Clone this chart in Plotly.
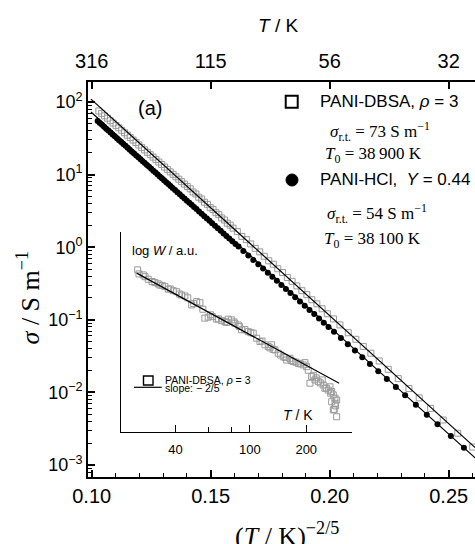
import plotly.graph_objects as go

# ---------------- main panel data: x = (T/K)^(-2/5), sigma in S/m ----------------
hcl_x = [0.1025, 0.1034, 0.1043, 0.1052, 0.1061, 0.1070, 0.1079, 0.1088, 0.1097, 0.1106,
         0.1115, 0.1124, 0.1133, 0.1142, 0.1151, 0.1160, 0.1169, 0.1178, 0.1187, 0.1196,
         0.1205, 0.1214, 0.1223, 0.1232, 0.1241, 0.1250, 0.1259, 0.1268, 0.1277, 0.1286,
         0.1295, 0.1304, 0.1313, 0.1322, 0.1331, 0.1340, 0.1350, 0.1360, 0.1370, 0.1380,
         0.1390, 0.1400, 0.1410, 0.1420, 0.1430, 0.1440, 0.1451, 0.1462, 0.1473, 0.1484,
         0.1495, 0.1506, 0.1518, 0.1530, 0.1542, 0.1554, 0.1566, 0.1578, 0.1591, 0.1604,
         0.1617, 0.1637, 0.1658, 0.1679, 0.1700, 0.1720, 0.1740, 0.1759, 0.1778, 0.1797,
         0.1816, 0.1835, 0.1855, 0.1875, 0.1895, 0.1915, 0.1935, 0.1955, 0.1975, 0.1995,
         0.2018, 0.2047, 0.2076, 0.2106, 0.2137, 0.2169, 0.2204, 0.2240, 0.2278, 0.2317,
         0.2362, 0.2408, 0.2453, 0.2509, 0.2564]
hcl_sigma = [54.7, 51.5, 48.5, 45.6, 42.9, 40.4, 38.0, 35.8, 33.7, 31.7,
             29.8, 28.1, 26.4, 24.9, 23.4, 22.0, 20.7, 19.5, 18.4, 17.3,
             16.3, 15.3, 14.4, 13.6, 12.8, 12.0, 11.3, 10.7, 10.0, 9.44,
             8.88, 8.36, 7.87, 7.41, 6.97, 6.56, 6.13, 5.73, 5.36, 5.01,
             4.68, 4.38, 4.09, 3.83, 3.58, 3.35, 3.10, 2.88, 2.68, 2.49,
             2.31, 2.14, 1.98, 1.82, 1.68, 1.55, 1.43, 1.32, 1.21, 1.11,
             1.02, 0.888, 0.771, 0.669, 0.581, 0.508, 0.444, 0.391, 0.344, 0.302,
             0.266, 0.234, 0.205, 0.179, 0.156, 0.137, 0.120, 0.104, 0.0912, 0.0797,
             0.0683, 0.0562, 0.0462, 0.0378, 0.0306, 0.0247, 0.0195, 0.0153, 0.0119, 0.00912,
             0.00674, 0.00494, 0.00365, 0.00251, 0.00173]

dbsa_x = [0.1030, 0.1042, 0.1054, 0.1066, 0.1078, 0.1090, 0.1102, 0.1114, 0.1126, 0.1138,
          0.1150, 0.1162, 0.1174, 0.1186, 0.1198, 0.1210, 0.1222, 0.1234, 0.1246, 0.1258,
          0.1270, 0.1282, 0.1294, 0.1306, 0.1318, 0.1330, 0.1342, 0.1354, 0.1366, 0.1378,
          0.1390, 0.1402, 0.1414, 0.1426, 0.1438, 0.1450, 0.1462, 0.1474, 0.1486, 0.1498,
          0.1510, 0.1522, 0.1534, 0.1546, 0.1558, 0.1570, 0.1582, 0.1594, 0.1612, 0.1631,
          0.1650, 0.1668, 0.1687, 0.1706, 0.1725, 0.1744, 0.1763, 0.1782, 0.1802, 0.1822,
          0.1842, 0.1862, 0.1883, 0.1904, 0.1925, 0.1946, 0.1968, 0.1990, 0.2016, 0.2043,
          0.2078, 0.2110, 0.2141, 0.2173, 0.2208, 0.2246, 0.2288, 0.2333, 0.2376, 0.2424,
          0.2477, 0.2538, 0.2601]
dbsa_sigma = [75.2, 69.7, 64.5, 59.8, 55.3, 51.3, 47.6, 44.1, 40.8, 37.7,
              34.9, 32.3, 29.9, 27.7, 25.6, 23.7, 21.9, 20.3, 18.8, 17.4,
              16.1, 14.9, 13.8, 12.7, 11.8, 10.9, 10.1, 9.34, 8.64, 8.00,
              7.40, 6.85, 6.37, 5.77, 5.41, 4.88, 4.60, 4.16, 3.89, 3.51,
              3.30, 2.99, 2.81, 2.53, 2.37, 2.14, 2.01, 1.83, 1.64, 1.41,
              1.27, 1.11, 0.964, 0.864, 0.750, 0.650, 0.583, 0.505, 0.448, 0.382,
              0.339, 0.293, 0.252, 0.222, 0.189, 0.166, 0.142, 0.121, 0.103, 0.0850,
              0.0664, 0.0539, 0.0430, 0.0347, 0.0271, 0.0208, 0.0155, 0.0113, 0.00841, 0.00603,
              0.00417, 0.00274, 0.00177]

# fitted straight lines (ln sigma vs T^-2/5), end points
fit_x = [0.0997, 0.2615]
dbsa_fit_sigma = [109.6, 0.00169]
hcl_fit_sigma = [72.8, 0.00122]

# ---------------- inset data: log W (a.u.) vs T / K ----------------
inset_T = [25.1, 25.5, 26.9, 27.5, 28.6, 30.0, 31.0, 32.3, 33.0, 34.0,
           35.1, 36.6, 37.5, 38.9, 40.6, 42.0, 43.1, 44.9, 46.5, 48.8,
           50.0, 51.9, 54.0, 56.0, 57.4, 59.8, 61.5, 62.9, 66.4, 68.0,
           70.6, 73.5, 75.0, 76.6, 79.8, 82.0, 83.1, 86.6, 88.0, 90.3,
           94.0, 97.9, 101.0, 104.1, 108.6, 113.1, 116.0, 120.3, 125.3, 128.0,
           130.6, 133.0, 136.0, 141.7, 146.0, 150.7, 154.0, 157.1, 163.6, 166.0,
           170.4, 176.0, 181.3, 186.0, 192.8, 196.8, 201.0, 205.0, 209.4, 213.8,
           218.0, 222.6, 226.0, 231.9, 238.0, 243.5, 246.6, 251.8, 256.0, 262.3,
           267.8, 270.0, 273.5, 273.5, 279.0, 279.0, 282.4, 284.8, 284.8, 287.0,
           290.8, 290.8]
inset_logW = [0.455, 0.439, 0.435, 0.428, 0.418, 0.409, 0.405, 0.400, 0.395, 0.393,
              0.389, 0.379, 0.380, 0.373, 0.369, 0.360, 0.356, 0.352, 0.345, 0.317,
              0.322, 0.330, 0.326, 0.300, 0.265, 0.269, 0.278, 0.271, 0.261, 0.262,
              0.255, 0.251, 0.248, 0.261, 0.258, 0.250, 0.245, 0.238, 0.232, 0.219,
              0.220, 0.212, 0.208, 0.206, 0.186, 0.173, 0.175, 0.160, 0.153, 0.148,
              0.160, 0.142, 0.140, 0.127, 0.120, 0.113, 0.110, 0.100, 0.107, 0.098,
              0.094, 0.092, 0.087, 0.085, 0.081, 0.090, 0.074, 0.060, 0.009, 0.035,
              0.040, 0.022, 0.030, 0.015, 0.010, 0.022, 0.002, -0.011, -0.010, -0.018,
              -0.005, -0.030, -0.024, -0.064, -0.037, -0.096, -0.094, -0.050, -0.070, -0.080,
              -0.057, -0.123]
inset_fit_T = [24.8, 300.0]
inset_fit_logW = [0.442, 0.009]

# axis tick values / labels
bottom_ticks = [0.10, 0.15, 0.20, 0.25]
bottom_labels = ["0.10", "0.15", "0.20", "0.25"]
top_labels = ["316", "115", "56", "32"]
y_ticks = [1e-3, 1e-2, 1e-1, 1, 10, 100]
y_labels = ["10<sup>−3</sup>", "10<sup>−2</sup>", "10<sup>−1</sup>",
            "10<sup>0</sup>", "10<sup>1</sup>", "10<sup>2</sup>"]
inset_ticks = [40, 100, 200]
inset_labels = ["40", "100", "200"]

SANS = "Liberation Sans, Arial, sans-serif"
SERIF = "Liberation Serif, Times New Roman, serif"
GRAY = "#9a9a9a"

fig = go.Figure()

fig.add_trace(go.Scatter(x=dbsa_x, y=dbsa_sigma, mode="markers", xaxis="x", yaxis="y",
                         marker=dict(symbol="square-open", size=6, color=GRAY,
                                     line=dict(width=1, color=GRAY)), showlegend=False))
fig.add_trace(go.Scatter(x=fit_x, y=hcl_fit_sigma, mode="lines", xaxis="x", yaxis="y",
                         line=dict(color="black", width=1.2), showlegend=False))
fig.add_trace(go.Scatter(x=hcl_x, y=hcl_sigma, mode="markers", xaxis="x", yaxis="y",
                         marker=dict(symbol="circle", size=6, color="black",
                                     line=dict(width=0)), showlegend=False))
fig.add_trace(go.Scatter(x=fit_x, y=dbsa_fit_sigma, mode="lines", xaxis="x2", yaxis="y",
                         line=dict(color="black", width=1.2), showlegend=False))

# inset
fig.add_trace(go.Scatter(x=inset_T, y=inset_logW, mode="markers", xaxis="x3", yaxis="y3",
                         marker=dict(symbol="square-open", size=6, color=GRAY,
                                     line=dict(width=1, color=GRAY)), showlegend=False))
fig.add_trace(go.Scatter(x=inset_fit_T, y=inset_fit_logW, mode="lines", xaxis="x3", yaxis="y3",
                         line=dict(color="black", width=1.2), showlegend=False))

x_range = [0.09845, 0.26105]

fig.update_layout(
    width=475, height=544,
    margin=dict(l=88, r=0, t=82, b=67, pad=0),
    paper_bgcolor="white", plot_bgcolor="rgba(0,0,0,0)",
    font=dict(family=SANS, color="black"),
    xaxis=dict(domain=[0, 1], range=x_range, anchor="y",
               tickmode="array", tickvals=bottom_ticks, ticktext=bottom_labels,
               ticks="inside", ticklen=7, tickwidth=1.5, tickcolor="black",
               minor=dict(ticks="inside", ticklen=4, tickwidth=1, dtick=0.01, tick0=0,
                          tickcolor="black", showgrid=False),
               showline=True, linewidth=1.6, linecolor="black", mirror=False,
               showgrid=False, zeroline=False,
               tickfont=dict(family=SANS, size=20, color="black")),
    xaxis2=dict(overlaying="x", side="top", range=x_range, anchor="y",
                tickmode="array", tickvals=bottom_ticks, ticktext=top_labels,
                ticks="inside", ticklen=7, tickwidth=1.5, tickcolor="black",
                ticklabelstandoff=4,
                showline=True, linewidth=1.6, linecolor="black",
                showgrid=False, zeroline=False,
                tickfont=dict(family=SANS, size=20, color="black")),
    yaxis=dict(domain=[0, 1], type="log", range=[-3.165, 2.2755], anchor="x",
               tickmode="array", tickvals=y_ticks, ticktext=y_labels,
               ticks="inside", ticklen=7, tickwidth=1.5, tickcolor="black",
               minor=dict(ticks="inside", ticklen=4, tickwidth=1, tickcolor="black",
                          tickvals=[m * 10.0 ** e for e in range(-4, 3) for m in range(2, 10)],
                          showgrid=False),
               showline=True, linewidth=1.6, linecolor="black", mirror=False,
               showgrid=False, zeroline=False,
               tickfont=dict(family=SANS, size=18, color="black")),
    xaxis3=dict(domain=[0.0845, 0.6814], anchor="y3", type="log", range=[1.309, 2.544],
                tickmode="array", tickvals=inset_ticks, ticktext=inset_labels,
                ticks="inside", ticklen=7, tickwidth=1, tickcolor="black",
                ticklabelstandoff=5,
                minor=dict(ticks="inside", ticklen=5, tickwidth=1, tickcolor="black",
                           tickvals=[60, 80], showgrid=False),
                showline=True, linewidth=1.3, linecolor="black",
                showgrid=False, zeroline=False,
                tickfont=dict(family=SANS, size=13, color="black")),
    yaxis3=dict(domain=[0.1139, 0.6203], anchor="x3", range=[-0.183, 0.604],
                showticklabels=False, ticks="", showline=True, linewidth=1.3,
                linecolor="black", showgrid=False, zeroline=False),
)

# legend symbols
shapes = [
    dict(type="rect", xref="paper", yref="paper", x0=0.5109, x1=0.5419, y0=0.9349, y1=0.9653,
         line=dict(color="black", width=2), fillcolor="white"),
    dict(type="circle", xref="paper", yref="paper", x0=0.5116, x1=0.5426, y0=0.7367, y1=0.7671,
         line=dict(color="black", width=1), fillcolor="black"),
    dict(type="rect", xref="paper", yref="paper", x0=0.1434, x1=0.1680, y0=0.2329, y1=0.2557,
         line=dict(color="black", width=1.4), fillcolor="white"),
    dict(type="line", xref="paper", yref="paper", x0=0.1189, x1=0.1905, y0=0.2271, y1=0.2271,
         line=dict(color="black", width=1.2)),
]
fig.update_layout(shapes=shapes)

def ann(text, x, y, size, family=SANS, xanchor="left", yanchor="middle", angle=0):
    fig.add_annotation(text=text, x=x, y=y, xref="paper", yref="paper", showarrow=False,
                       xanchor=xanchor, yanchor=yanchor, textangle=angle,
                       font=dict(family=family, size=size, color="black"))

ann("<i>T</i> / K", 0.491, 1.1443, 19, xanchor="center")
ann("(a)", 0.1602, 0.9342, 20, xanchor="center")
ann("PANI-DBSA, <i>ρ</i> = 3", 0.5953, 0.9501, 17)
ann("<i>σ</i><sub>r.t.</sub> = 73 S m<sup>−1</sup>", 0.6202, 0.8742, 17, family=SERIF)
ann("<i>T</i><sub>0</sub> = 38\u2009900 K", 0.6080, 0.8152, 17, family=SERIF)
ann("PANI-HCl,  <i>Y</i> = 0.44", 0.5953, 0.7519, 17)
ann("<i>σ</i><sub>r.t.</sub> = 54 S m<sup>−1</sup>", 0.6124, 0.6676, 17, family=SERIF)
ann("<i>T</i><sub>0</sub> = 38\u2009100 K", 0.6039, 0.6000, 17, family=SERIF)
ann("(<i>T</i> / K)<sup>−2/5</sup>", 0.5155, -0.145, 26, family=SERIF, xanchor="center")
ann("<i>σ</i> / S m<sup>−1</sup>", -0.1540, 0.4556, 26, family=SERIF, xanchor="center", angle=-90)
# inset texts
ann("log <i>W</i> / a.u.", 0.1085, 0.5722, 13)
ann("PANI-DBSA, <i>ρ</i> = 3", 0.1946, 0.2450, 10.5)
ann("slope: − 2/5", 0.1946, 0.2253, 10.5)
ann("<i>T</i> / K", 0.5426, 0.157, 14, xanchor="center")

fig.write_html("out.html", config={"displayModeBar": False},
               post_script="document.body.style.margin='0';document.body.style.overflow='hidden';")
